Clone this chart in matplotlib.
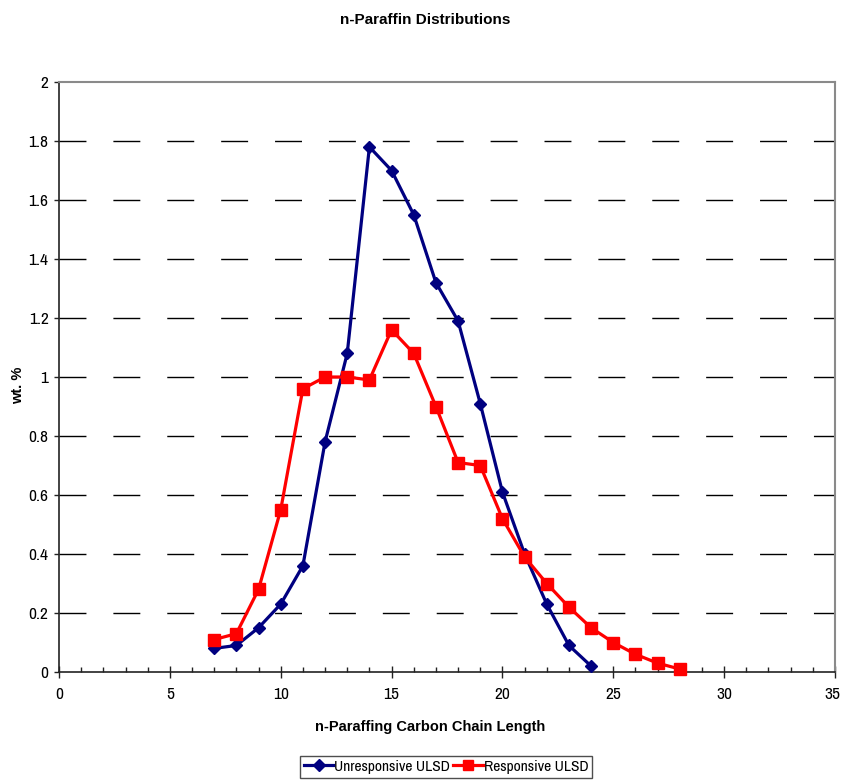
import matplotlib
matplotlib.use("Agg")
import matplotlib.pyplot as plt
import matplotlib.transforms as mtransforms
from matplotlib import font_manager
from matplotlib.ticker import MultipleLocator, FuncFormatter

names = {f.name for f in font_manager.fontManager.ttflist}
NARROW = next((n for n in ["Liberation Sans Narrow", "Archivo Narrow", "Liberation Sans"] if n in names),
              "DejaVu Sans")
plt.rcParams['font.family'] = ['Liberation Sans', 'DejaVu Sans']

x_unresp = [7, 8, 9, 10, 11, 12, 13, 14, 15, 16, 17, 18, 19, 20, 21, 22, 23, 24]
y_unresp = [0.08, 0.09, 0.15, 0.23, 0.36, 0.78, 1.08, 1.78, 1.70, 1.55, 1.32, 1.19,
            0.91, 0.61, 0.40, 0.23, 0.09, 0.02]
x_resp = [7, 8, 9, 10, 11, 12, 13, 14, 15, 16, 17, 18, 19, 20, 21, 22, 23, 24, 25, 26, 27, 28]
y_resp = [0.11, 0.13, 0.28, 0.55, 0.96, 1.00, 1.00, 0.99, 1.16, 1.08, 0.90, 0.71,
          0.70, 0.52, 0.39, 0.30, 0.22, 0.15, 0.10, 0.06, 0.03, 0.01]

title = "n-Paraffin Distributions"
xlabel = "n-Paraffing Carbon Chain Length"
ylabel = "wt. %"
labels = ["Unresponsive ULSD", "Responsive ULSD"]

W, H = 841, 780
fig = plt.figure(figsize=(W / 100, H / 100), dpi=100)
ax = fig.add_axes([59 / W, 1 - 672 / H, (835 - 59) / W, (672 - 82) / H])

ax.set_xlim(0, 35)
ax.set_ylim(0, 2)
ax.xaxis.set_major_locator(MultipleLocator(5))
ax.xaxis.set_minor_locator(MultipleLocator(1))
ax.yaxis.set_major_locator(MultipleLocator(0.2))

# dashed grid lines
for yv in [0.2, 0.4, 0.6, 0.8, 1.0, 1.2, 1.4, 1.6, 1.8]:
    ax.axhline(yv, color='black', lw=1.0, dashes=(19.4, 19.4), zorder=1)

ax.plot(x_unresp, y_unresp, color='#000080', lw=2.3, marker='D', markersize=6.5,
        label=labels[0], zorder=3, clip_on=False)
ax.plot(x_resp, y_resp, color='#FF0000', lw=2.3, marker='s', markersize=8.5,
        label=labels[1], zorder=3, clip_on=False)

for s in ['left', 'bottom']:
    ax.spines[s].set_color('#222222')
    ax.spines[s].set_linewidth(1.2)
for s in ['top', 'right']:
    ax.spines[s].set_color('#8a8a8a')
    ax.spines[s].set_linewidth(1.5)

ax.tick_params(axis='x', which='major', direction='inout', length=8, width=1,
               labelsize=12.5, pad=7, color='#222222')
ax.tick_params(axis='x', which='minor', direction='in', length=3.5, width=1, color='#222222')
ax.tick_params(axis='y', which='major', direction='out', length=3.5, width=1,
               labelsize=12.5, pad=4, color='#222222')
ax.yaxis.set_major_formatter(FuncFormatter(lambda v, p: '%g' % round(v, 1)))
fig.canvas.draw()
xlabs = ax.get_xticklabels()
for lab in xlabs + ax.get_yticklabels():
    lab.set_family([NARROW, 'DejaVu Sans'])
# keep the last x label (35) inside the canvas
last = [l for l in xlabs if l.get_text() == '35']
for l in last:
    l.set_transform(l.get_transform() + mtransforms.ScaledTranslation(-3 / 100, 0, fig.dpi_scale_trans))

fig.text(425 / W, 1 - 20 / H, title, ha='center', va='center', fontsize=11, fontweight='bold')
fig.text(430 / W, 1 - 727 / H, xlabel, ha='center', va='center', fontsize=10.5, fontweight='bold')
fig.text(18 / W, 1 - 385 / H, ylabel, ha='center', va='center', fontsize=10.5,
         fontweight='bold', rotation=90)

leg = fig.legend(loc='upper center', bbox_to_anchor=(446 / W, 1 - 756 / H), ncol=2,
                 prop={'family': [NARROW, 'DejaVu Sans'], 'size': 11.2},
                 frameon=True, fancybox=False, handlelength=1.9,
                 handletextpad=0.05, columnspacing=0.2, borderpad=0.25,
                 borderaxespad=0, markerscale=0.9)
leg.get_frame().set_edgecolor('#222222')
leg.get_frame().set_linewidth(1.0)

fig.savefig("out.png", dpi=100)
